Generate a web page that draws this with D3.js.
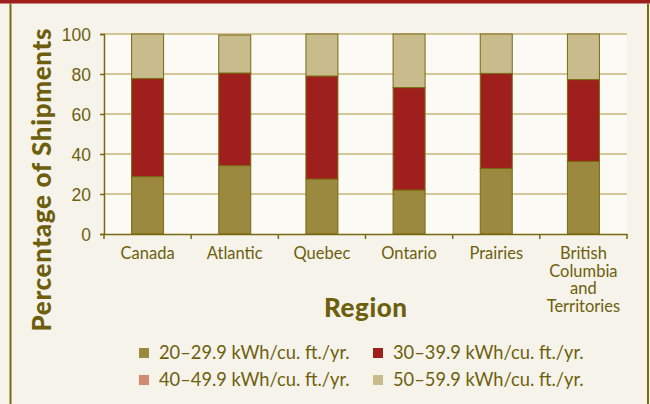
<!DOCTYPE html>
<html>
<head>
<meta charset="utf-8">
<script src="https://cdn.jsdelivr.net/npm/d3@7"></script>
<style>
  html, body { margin: 0; padding: 0; background: #f6f3ea; }
  svg { display: block; font-family: Lato, "Open Sans", sans-serif; }
</style>
</head>
<body>
<svg id="chart" width="650" height="404"></svg>
<script>
// Chart data
const regions = ['Canada', 'Atlantic', 'Quebec', 'Ontario', 'Prairies', 'British Columbia and Territories'];
const regionLines = [['Canada'], ['Atlantic'], ['Quebec'], ['Ontario'], ['Prairies'], ['British', 'Columbia', 'and', 'Territories']];
const seriesNames = ['20–29.9 kWh/cu. ft./yr.', '30–39.9 kWh/cu. ft./yr.', '40–49.9 kWh/cu. ft./yr.', '50–59.9 kWh/cu. ft./yr.'];
const band20 = [28.7, 34.2, 27.5, 22, 32.8, 36.3];
const band30 = [49, 46.3, 51.5, 51.2, 47.5, 40.9];
const band40 = [0, 0, 0, 0, 0, 0];
const band50 = [22.3, 19, 21, 26.8, 19.7, 22.8];
const yTicks = [0, 20, 40, 60, 80, 100];

const colors = ['#9a893e', '#9e1f1c', '#d08a70', '#c8bb8c'];
const textColor = '#6e5f0e';
const lineColor = '#7a6a12';

const svg = d3.select('#chart');
const W = 650, H = 404;
const margin = { top: 34, right: 23, bottom: 170, left: 104 };
const plotW = W - margin.left - margin.right;
const plotH = H - margin.top - margin.bottom;

// frame
svg.append('rect').attr('x', 0).attr('y', 0).attr('width', W).attr('height', 3.5).attr('fill', '#9e1f1c');
svg.append('rect').attr('x', 9.5).attr('y', 3.5).attr('width', 2).attr('height', H).attr('fill', lineColor);
svg.append('rect').attr('x', 647).attr('y', 3.5).attr('width', 2).attr('height', H).attr('fill', lineColor);

const g = svg.append('g').attr('transform', `translate(${margin.left},${margin.top})`);

g.append('rect').attr('width', plotW).attr('height', plotH).attr('fill', '#fbfaf5');

const x = d3.scaleBand().domain(regions).range([0, plotW]).padding(0);
const y = d3.scaleLinear().domain([0, 100]).range([plotH, 0]);
const barW = 32;

// gridlines
g.selectAll('.grid').data(yTicks.filter(t => t > 0)).enter().append('line')
  .attr('class', 'grid')
  .attr('x1', 0).attr('x2', plotW)
  .attr('y1', d => y(d)).attr('y2', d => y(d))
  .attr('stroke', '#c6b477').attr('stroke-width', 1.3);

// stacked bars
const table = regions.map((r, i) => ({ region: r, s0: band20[i], s1: band30[i], s2: band40[i], s3: band50[i] }));
const stack = d3.stack().keys(['s0', 's1', 's2', 's3'])(table);

stack.forEach((layer, li) => {
  g.selectAll(`.bar-${li}`).data(layer).enter().append('rect')
    .attr('class', `bar-${li}`)
    .attr('x', d => x(d.data.region) + (x.bandwidth() - barW) / 2)
    .attr('y', d => y(d[1]))
    .attr('width', barW)
    .attr('height', d => y(d[0]) - y(d[1]))
    .attr('fill', colors[li])
    .attr('stroke', lineColor)
    .attr('stroke-width', d => (d[1] - d[0]) > 0 ? 1 : 0);
});

// axes
const yAxis = d3.axisLeft(y).tickValues(yTicks).tickSize(4).tickPadding(9);
const yG = g.append('g').call(yAxis);
yG.select('.domain').attr('stroke', lineColor).attr('stroke-width', 1.5);
yG.selectAll('.tick line').attr('stroke', lineColor).attr('stroke-width', 1.5);
yG.selectAll('.tick text').attr('fill', textColor).style('font-size', '17.5px').attr('dy', '0.35em');

const xAxis = d3.axisBottom(x).tickSize(0).tickFormat('');
const xG = g.append('g').attr('transform', `translate(0,${plotH})`).call(xAxis);
xG.select('.domain').attr('stroke', lineColor).attr('stroke-width', 1.5);

// boundary ticks between categories
const bounds = regions.map(r => x(r)).concat([plotW]);
g.selectAll('.xtick').data(bounds).enter().append('line')
  .attr('x1', d => d).attr('x2', d => d)
  .attr('y1', plotH).attr('y2', plotH + 5)
  .attr('stroke', lineColor).attr('stroke-width', 1.5);

// category labels
regions.forEach((r, i) => {
  const t = g.append('text')
    .attr('text-anchor', 'middle')
    .attr('fill', textColor)
    .style('font-size', '16.5px')
    .attr('x', x(r) + x.bandwidth() / 2)
    .attr('y', plotH + 25);
  regionLines[i].forEach((line, j) => {
    t.append('tspan').attr('x', x(r) + x.bandwidth() / 2).attr('dy', j === 0 ? 0 : 17.5).text(line);
  });
});

// axis titles
svg.append('text')
  .attr('text-anchor', 'middle')
  .attr('fill', textColor)
  .style('font-size', '26px').style('font-weight', 900)
  .attr('x', margin.left + plotW / 2).attr('y', 317)
  .attr('textLength', 83).attr('lengthAdjust', 'spacing')
  .text('Region');

svg.append('text')
  .attr('text-anchor', 'middle')
  .attr('fill', textColor)
  .style('font-size', '26px').style('font-weight', 900)
  .attr('transform', 'translate(51,180) rotate(-90)')
  .attr('textLength', 303).attr('lengthAdjust', 'spacing')
  .text('Percentage of Shipments');

// legend
const legendPos = [[139, 353], [373, 353], [139, 380], [373, 380]];
seriesNames.forEach((name, i) => {
  const lg = svg.append('g').attr('transform', `translate(${legendPos[i][0]},${legendPos[i][1]})`);
  lg.append('rect').attr('x', 0).attr('y', -5).attr('width', 10).attr('height', 10).attr('fill', colors[i]);
  lg.append('text').attr('x', 20).attr('y', 0).attr('dy', '0.35em')
    .attr('fill', textColor).style('font-size', '18.3px').text(name);
});
</script>
</body>
</html>
